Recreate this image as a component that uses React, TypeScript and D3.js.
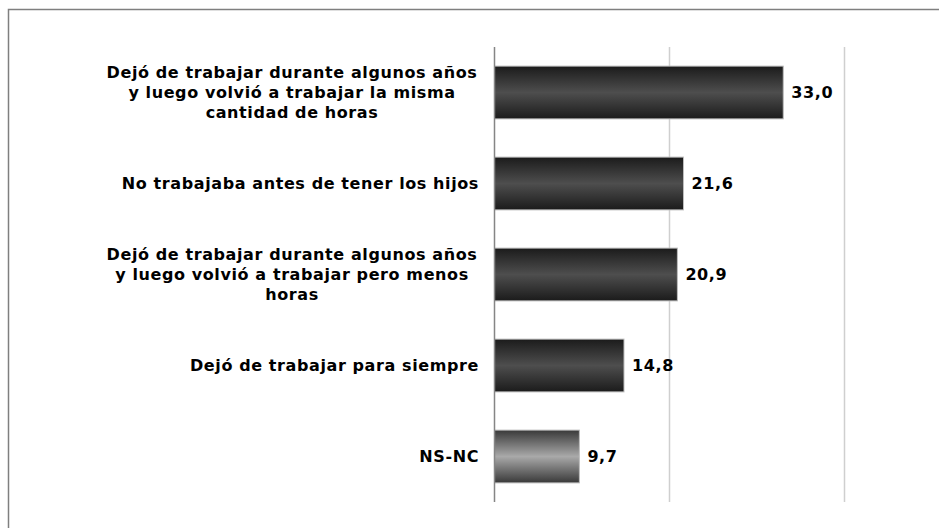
import React from "react";
import * as d3 from "d3";

const categories = [
  "Dejó de trabajar durante algunos años\ny luego volvió a trabajar la misma\ncantidad de horas",
  "No trabajaba antes de tener los hijos",
  "Dejó de trabajar durante algunos años\ny luego volvió a trabajar pero menos\nhoras",
  "Dejó de trabajar para siempre",
  "NS-NC",
];
const values = [33.0, 21.6, 20.9, 14.8, 9.7];
const gradientKeys = ["dark", "dark", "dark", "dark", "grey"];
const gridTicks = [20, 40];

const W = 939;
const H = 528;
const FONT = "'DejaVu Sans', Verdana, sans-serif";

export default function App() {
  const x = d3.scaleLinear().domain([0, 40]).range([494.5, 844.5]);
  const y = d3
    .scaleBand<string>()
    .domain(categories)
    .range([47, 502])
    .paddingInner(0.42)
    .paddingOuter(0.21);
  const labelRight = 479;
  const lineH = 20;
  const fmt = (v: number) => d3.format(".1f")(v).replace(".", ",");
  const textProps = {
    fontFamily: FONT,
    fontWeight: "bold",
    fontSize: 16,
    letterSpacing: 0.6,
    fill: "#000",
  } as const;

  return (
    <svg
      width={W}
      height={H}
      style={{ position: "absolute", left: 0, top: 0, display: "block", background: "#fff" }}
    >
      <defs>
        <linearGradient id="dark" x1="0" y1="0" x2="0" y2="1">
          <stop offset="0" stopColor="#1b1b1b" />
          <stop offset="0.5" stopColor="#4e4e4e" />
          <stop offset="1" stopColor="#1b1b1b" />
        </linearGradient>
        <linearGradient id="grey" x1="0" y1="0" x2="0" y2="1">
          <stop offset="0" stopColor="#393939" />
          <stop offset="0.5" stopColor="#a9a9a9" />
          <stop offset="1" stopColor="#393939" />
        </linearGradient>
      </defs>
      <rect x={8.5} y={9.5} width={W + 10} height={H + 10} fill="#fff" stroke="#7f7f7f" strokeWidth={1.5} />
      {gridTicks.map((t) => (
        <line key={t} x1={x(t)} x2={x(t)} y1={47} y2={502} stroke="#cfcfcf" strokeWidth={1.5} />
      ))}
      {categories.map((c, i) => {
        const y0 = y(c)!;
        const bw = y.bandwidth();
        const cy = y0 + bw / 2;
        const lines = c.split("\n");
        return (
          <g key={c}>
            <rect
              x={x(0)}
              y={y0}
              width={x(values[i]) - x(0)}
              height={bw}
              fill={`url(#${gradientKeys[i]})`}
              stroke="#bdbdbd"
              strokeWidth={1}
            />
            <text x={x(values[i]) + 8} y={cy} dy="0.35em" {...textProps}>
              {fmt(values[i])}
            </text>
            {lines.length === 1 ? (
              <text x={labelRight} y={cy} dy="0.35em" textAnchor="end" {...textProps}>
                {c}
              </text>
            ) : (
              <text x={labelRight - 187} textAnchor="middle" {...textProps}>
                {lines.map((l, k) => (
                  <tspan key={k} x={labelRight - 187} y={cy + (k - (lines.length - 1) / 2) * lineH} dy="0.35em">
                    {l}
                  </tspan>
                ))}
              </text>
            )}
          </g>
        );
      })}
      <line x1={x(0)} x2={x(0)} y1={47} y2={502} stroke="#858585" strokeWidth={1.5} />
    </svg>
  );
}
